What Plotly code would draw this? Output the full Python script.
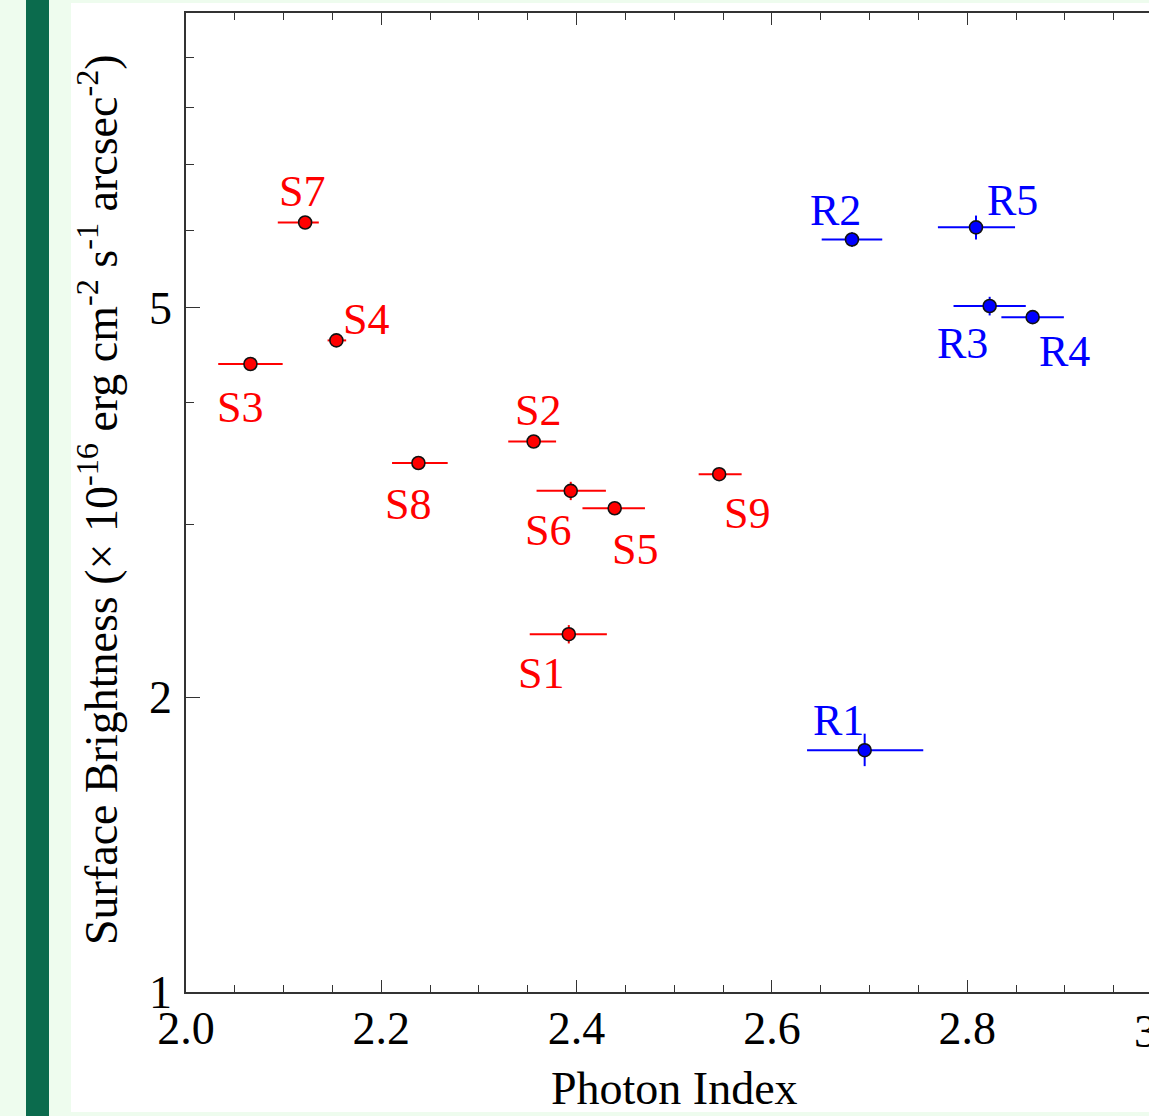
import numpy as np
import plotly.graph_objects as go

# ---------------- data ----------------
s_names = ["S1", "S2", "S3", "S4", "S5", "S6", "S7", "S8", "S9"]
s_gamma = [2.392, 2.356, 2.066, 2.154, 2.439, 2.394, 2.122, 2.238, 2.546]
s_gamma_err_plus = [0.039, 0.023, 0.033, 0.010, 0.031, 0.036, 0.014, 0.030, 0.023]
s_gamma_err_minus = [0.040, 0.026, 0.033, 0.009, 0.033, 0.035, 0.028, 0.027, 0.021]
s_sb = [2.32, 3.65, 4.38, 4.63, 3.12, 3.25, 6.11, 3.47, 3.38]
s_sb_err = [0.05, 0.03, 0.03, 0.03, 0.03, 0.07, 0.03, 0.05, 0.03]

r_names = ["R1", "R2", "R3", "R4", "R5"]
r_gamma = [2.695, 2.682, 2.823, 2.867, 2.809]
r_gamma_err_plus = [0.060, 0.031, 0.037, 0.032, 0.040]
r_gamma_err_minus = [0.059, 0.031, 0.037, 0.032, 0.039]
r_sb = [1.766, 5.87, 5.02, 4.89, 6.04]
r_sb_err_plus = [0.07, 0.10, 0.11, 0.045, 0.17]
r_sb_err_minus = [0.065, 0.10, 0.11, 0.045, 0.17]

x_ticks = [2.0, 2.2, 2.4, 2.6, 2.8]
y_ticks = [1, 2, 5]
y_minor = [3, 4, 6, 7, 8, 9]

# label offsets in screen pixels (dx right, dy down) -- styling only
s_label_off = {"S1": (-28, 39), "S2": (4, -31), "S3": (-10, 43), "S4": (30, -21),
               "S5": (20, 41), "S6": (-23, 40), "S7": (-3, -31), "S8": (-10, 41),
               "S9": (28, 39)}
r_label_off = {"R1": (-26, -30), "R2": (-16, -29), "R3": (-27, 37), "R4": (32, 34),
               "R5": (37, -27)}

# ---------------- layout geometry ----------------
W, H = 1149, 1116
ML, MT, MB, MR = 186, 13, 124, 0
PW = W - ML - MR
PH = H - MT - MB
FONT = "Liberation Serif, Times New Roman, serif"
RED = "#FF0000"
BLUE = "#0000FF"
LIGHT = "#EEFCEE"
DARK = "#0B6B4D"

px_per_unit = 976.5
x_max = 2.0 + PW / px_per_unit


def px2paper_x(px):
    return (px - ML) / PW


def px2paper_y(py):
    return (H - MB - py) / PH


fig = go.Figure()

fig.add_trace(go.Scatter(
    x=s_gamma, y=s_sb, mode="markers", name="S",
    marker=dict(color=RED, size=13, line=dict(color="#111111", width=1.6)),
    error_x=dict(type="data", array=s_gamma_err_plus, arrayminus=s_gamma_err_minus,
                 color=RED, thickness=2, width=0),
    error_y=dict(type="data", array=s_sb_err, color=RED, thickness=2, width=0),
    showlegend=False,
))
fig.add_trace(go.Scatter(
    x=r_gamma, y=r_sb, mode="markers", name="R",
    marker=dict(color=BLUE, size=13, line=dict(color="#111111", width=1.6)),
    error_x=dict(type="data", array=r_gamma_err_plus, arrayminus=r_gamma_err_minus,
                 color=BLUE, thickness=2, width=0),
    error_y=dict(type="data", array=r_sb_err_plus, arrayminus=r_sb_err_minus,
                 color=BLUE, thickness=2, width=0),
    showlegend=False,
))

annotations = []
for n, gx, sb in zip(s_names, s_gamma, s_sb):
    dx, dy = s_label_off[n]
    annotations.append(dict(x=gx, y=np.log10(sb), xref="x", yref="y", text=n,
                            showarrow=False, xshift=dx, yshift=-dy,
                            xanchor="center", yanchor="middle",
                            font=dict(family=FONT, size=44, color=RED)))
for n, gx, sb in zip(r_names, r_gamma, r_sb):
    dx, dy = r_label_off[n]
    annotations.append(dict(x=gx, y=np.log10(sb), xref="x", yref="y", text=n,
                            showarrow=False, xshift=dx, yshift=-dy,
                            xanchor="center", yanchor="middle",
                            font=dict(family=FONT, size=44, color=BLUE)))

# axis titles
annotations.append(dict(x=px2paper_x(674), y=px2paper_y(1088), xref="paper", yref="paper",
                        text="Photon Index", showarrow=False,
                        xanchor="center", yanchor="middle",
                        font=dict(family=FONT, size=46, color="black")))
annotations.append(dict(x=px2paper_x(98), y=px2paper_y(500), xref="paper", yref="paper",
                        text="Surface Brightness (× 10<sup>-16</sup> erg cm<sup>-2</sup> s<sup>-1</sup> arcsec<sup>-2</sup>)",
                        textangle=-90, showarrow=False,
                        xanchor="center", yanchor="middle",
                        font=dict(family=FONT, size=46, color="black")))
# partially visible "3.0" tick label at right edge
annotations.append(dict(x=px2paper_x(1163), y=px2paper_y(1031), xref="paper", yref="paper",
                        text="3.0", showarrow=False,
                        xanchor="center", yanchor="middle",
                        font=dict(family=FONT, size=46, color="black")))

shapes = [
    dict(type="rect", xref="paper", yref="paper", layer="below",
         x0=px2paper_x(71), x1=px2paper_x(1160), y0=px2paper_y(1112), y1=px2paper_y(3),
         fillcolor="white", line=dict(width=0)),
    dict(type="rect", xref="paper", yref="paper", layer="below",
         x0=px2paper_x(26), x1=px2paper_x(49), y0=px2paper_y(1120), y1=px2paper_y(-4),
         fillcolor=DARK, line=dict(width=0)),
]

fig.update_layout(
    width=W, height=H,
    margin=dict(l=ML, r=MR, t=MT, b=MB, pad=0),
    paper_bgcolor=LIGHT, plot_bgcolor="white",
    font=dict(family=FONT, size=46, color="black"),
    annotations=annotations, shapes=shapes,
)
fig.update_xaxes(
    range=[2.0, x_max], tickvals=x_ticks, ticktext=[f"{v:.1f}" for v in x_ticks],
    ticks="inside", ticklen=12, tickwidth=1.3, tickcolor="#333333",
    showline=True, linecolor="#333333", linewidth=1.5, mirror="ticks",
    showgrid=False, zeroline=False, ticklabelstandoff=-5,
    minor=dict(dtick=0.05, tick0=2.0, ticks="inside", ticklen=7, tickwidth=1.2,
               tickcolor="#333333", showgrid=False),
    tickfont=dict(family=FONT, size=46, color="black"),
)
fig.update_yaxes(
    type="log", range=[0, 1], tickvals=y_ticks, ticktext=[str(v) for v in y_ticks],
    ticks="inside", ticklen=14, tickwidth=1.3, tickcolor="#333333",
    showline=True, linecolor="#333333", linewidth=1.5, mirror=False,
    showgrid=False, zeroline=False, ticklabelstandoff=3,
    minor=dict(tickvals=y_minor, ticks="inside", ticklen=8, tickwidth=1.2,
               tickcolor="#333333", showgrid=False),
    tickfont=dict(family=FONT, size=46, color="black"),
)

fig.write_html(
    "out.html",
    config={"displayModeBar": False},
    post_script="document.body.style.margin='0px';document.body.style.overflow='hidden';",
)
